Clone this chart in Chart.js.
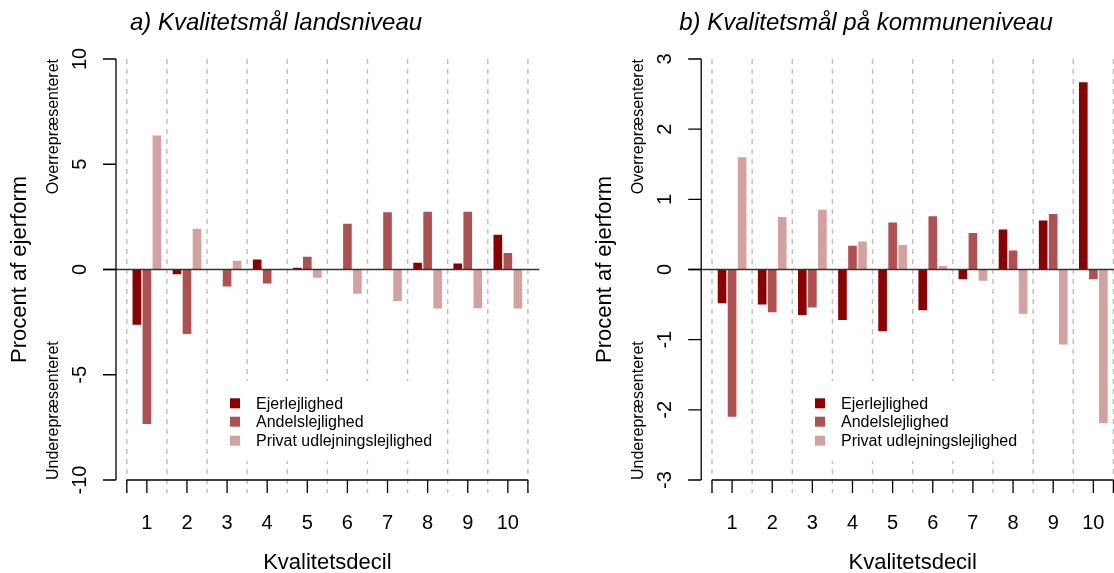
<!DOCTYPE html>
<html><head><meta charset="utf-8">
<script src="https://cdn.jsdelivr.net/npm/chart.js@4.4.1/dist/chart.umd.min.js"></script>
<style>
html,body{margin:0;padding:0;background:#fff;}
#wrap{position:relative;width:1114px;height:573px;overflow:hidden;}
canvas{position:absolute;left:0;top:0;}
</style></head><body>
<div id="wrap"><canvas id="ca" width="1114" height="573"></canvas><canvas id="cb" width="1114" height="573"></canvas></div>
<script>
// ---------- data ----------
const categories = ['1','2','3','4','5','6','7','8','9','10'];
const seriesNames = ['Ejerlejlighed','Andelslejlighed','Privat udlejningslejlighed'];
const seriesColors = ['#8B0000','#B05151','#D4A1A1'];

const ejerA   = [-2.63,-0.22, 0.00, 0.48, 0.08, 0.00, 0.00, 0.32, 0.29, 1.65];
const andelA  = [-7.34,-3.07,-0.81,-0.66, 0.60, 2.17, 2.72, 2.74, 2.74, 0.78];
const privatA = [ 6.37, 1.93, 0.41, 0.00,-0.39,-1.15,-1.50,-1.85,-1.84,-1.85];

const ejerB   = [-0.48,-0.50,-0.65,-0.72,-0.88,-0.58,-0.14, 0.57, 0.70, 2.67];
const andelB  = [-2.10,-0.61,-0.54, 0.34, 0.67, 0.76, 0.52, 0.27, 0.79,-0.14];
const privatB = [ 1.60, 0.75, 0.85, 0.40, 0.35, 0.05,-0.16,-0.63,-1.07,-2.19];

const yTicksA = [-10,-5,0,5,10];
const yTicksB = [-3,-2,-1,0,1,2,3];

const titleA = 'a) Kvalitetsmål landsniveau';
const titleB = 'b) Kvalitetsmål på kommuneniveau';
const yTitle = 'Procent af ejerform';
const xTitle = 'Kvalitetsdecil';
const overText = 'Overrepræsenteret';
const underText = 'Underepræsenteret';

// ---------- drawing ----------
const FONT = '"Liberation Sans", Arial, Helvetica, sans-serif';
const W = 1114, H = 573;

function rotText(ctx, txt, x, y, align, font) {
  ctx.save();
  ctx.translate(x, y);
  ctx.rotate(-Math.PI/2);
  ctx.font = font;
  ctx.textAlign = align;
  ctx.textBaseline = 'alphabetic';
  ctx.fillText(txt, 0, 0);
  ctx.restore();
}

function makePanel(canvasId, vals, yTicks, yMin, yMax, opt) {
  const plugin = {
    id: 'rstyle_' + canvasId,
    beforeDatasetsDraw(chart) {
      const ctx = chart.ctx, xs = chart.scales.x, ca = chart.chartArea;
      const n = categories.length, w = (ca.right - ca.left) / n;
      ctx.save();
      ctx.strokeStyle = '#BEBEBE';
      ctx.lineWidth = 1.4;
      ctx.setLineDash([5, 5]);
      for (let i = 0; i <= n; i++) {
        const px = (i < n ? xs.getPixelForValue(i) - w/2 : xs.getPixelForValue(n-1) + w/2);
        ctx.beginPath();
        ctx.moveTo(px, ca.top);
        ctx.lineTo(px, ca.bottom + 13);
        ctx.stroke();
      }
      ctx.setLineDash([]);
      ctx.fillStyle = '#fff';
      const b = opt.legBox;
      ctx.fillRect(b[0], b[1], b[2]-b[0], b[3]-b[1]);
      ctx.restore();
    },
    afterDatasetsDraw(chart) {
      const ctx = chart.ctx, xs = chart.scales.x, ys = chart.scales.y, ca = chart.chartArea;
      const n = categories.length, w = (ca.right - ca.left) / n;
      const axX = ca.left - 10.8;
      ctx.save();
      // zero line
      const y0 = ys.getPixelForValue(0);
      ctx.strokeStyle = '#333';
      ctx.lineWidth = 1.6;
      ctx.beginPath();
      ctx.moveTo(axX - 13, y0);
      ctx.lineTo(opt.zeroRight, y0);
      ctx.stroke();
      // y axis
      ctx.strokeStyle = '#000';
      ctx.lineWidth = 1.3;
      const yTop = ys.getPixelForValue(yMax), yBot = ys.getPixelForValue(yMin);
      ctx.beginPath();
      ctx.moveTo(axX, yTop); ctx.lineTo(axX, yBot);
      ys.ticks.forEach(t => {
        const py = ys.getPixelForValue(t.value);
        ctx.moveTo(axX - 13, py); ctx.lineTo(axX, py);
      });
      ctx.stroke();
      ctx.fillStyle = '#000';
      ys.ticks.forEach(t => {
        const py = ys.getPixelForValue(t.value);
        rotText(ctx, String(t.value), axX - 30, py, 'center', '20px ' + FONT);
      });
      // x axis
      ctx.beginPath();
      ctx.moveTo(ca.left, ca.bottom); ctx.lineTo(ca.right, ca.bottom);
      ctx.moveTo(ca.left, ca.bottom); ctx.lineTo(ca.left, ca.bottom + 13);
      ctx.moveTo(ca.right, ca.bottom); ctx.lineTo(ca.right, ca.bottom + 13);
      for (let i = 0; i < n; i++) {
        const px = xs.getPixelForValue(i);
        ctx.moveTo(px, ca.bottom); ctx.lineTo(px, ca.bottom + 13);
      }
      ctx.stroke();
      ctx.font = '20px ' + FONT;
      ctx.textAlign = 'center';
      ctx.textBaseline = 'alphabetic';
      for (let i = 0; i < n; i++) {
        ctx.fillText(categories[i], xs.getPixelForValue(i), ca.bottom + 49);
      }
      // axis titles
      ctx.font = '22px ' + FONT;
      ctx.fillText(xTitle, (ca.left + ca.right) / 2, ca.bottom + 89);
      rotText(ctx, yTitle, axX - 90, (yTop + yBot) / 2, 'center', '22px ' + FONT);
      rotText(ctx, overText, axX - 58.5, yTop, 'right', '16px ' + FONT);
      rotText(ctx, underText, axX - 58.5, yBot, 'left', '16px ' + FONT);
      // main title
      ctx.font = 'italic 24px ' + FONT;
      ctx.textAlign = 'center';
      ctx.fillText(opt.title, opt.titleX, 30);
      // legend
      ctx.font = '16px ' + FONT;
      ctx.textAlign = 'left';
      ctx.textBaseline = 'middle';
      chart.data.datasets.forEach((ds, i) => {
        const ry = opt.legY[i];
        ctx.fillStyle = ds.backgroundColor;
        ctx.fillRect(opt.legX, ry - 5, 10, 10);
        ctx.fillStyle = '#000';
        ctx.fillText(ds.label, opt.legX + 26, ry + 1);
      });
      ctx.restore();
    }
  };

  return new Chart(document.getElementById(canvasId), {
    type: 'bar',
    data: {
      labels: categories,
      datasets: seriesNames.map((name, i) => ({
        label: name,
        data: vals[i],
        backgroundColor: seriesColors[i],
        borderWidth: 0,
        categoryPercentage: 0.75,
        barPercentage: 0.86
      }))
    },
    options: {
      responsive: false,
      animation: false,
      devicePixelRatio: 1,
      layout: { padding: opt.padding },
      plugins: { legend: { display: false }, title: { display: false }, tooltip: { enabled: false } },
      scales: {
        x: { display: false, offset: true, grid: { offset: true } },
        y: {
          display: false, min: yMin, max: yMax,
          afterBuildTicks(scale) { scale.ticks = yTicks.map(v => ({ value: v })); }
        }
      }
    },
    plugins: [plugin]
  });
}

makePanel('ca', [ejerA, andelA, privatA], yTicksA, -10, 10, {
  padding: { left: 126.8, right: W - 527.9, top: 59, bottom: H - 480 },
  zeroRight: 539.3,
  title: titleA, titleX: 276,
  legBox: [222, 381, 441, 461],
  legX: 230, legY: [403.3, 421.7, 440.7]
});

makePanel('cb', [ejerB, andelB, privatB], yTicksB, -3, 3, {
  padding: { left: 712, right: W - 1113.4, top: 59, bottom: H - 480 },
  zeroRight: 1114,
  title: titleB, titleX: 866,
  legBox: [807, 381, 1027, 461],
  legX: 815, legY: [403.3, 421.7, 440.7]
});
</script>
</body></html>
